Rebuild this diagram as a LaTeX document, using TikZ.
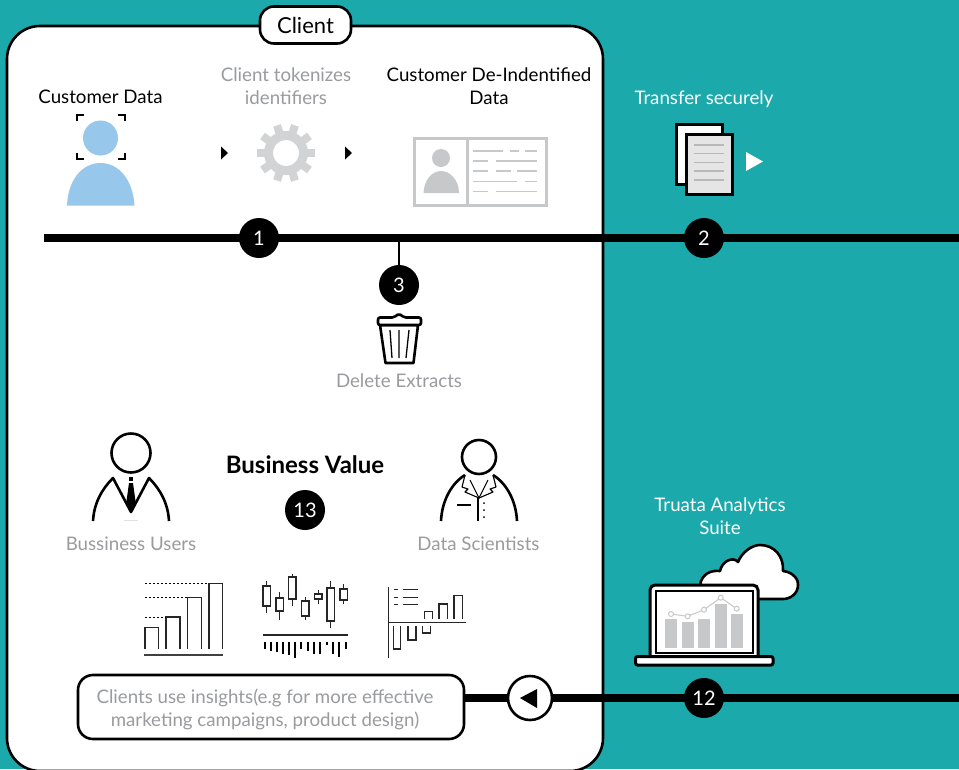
\documentclass[tikz,border=0pt]{standalone}
\usepackage{fontspec}
\setmainfont{Lato}
\definecolor{tealbg}{HTML}{1CA9AC}
\definecolor{soft}{HTML}{999B9E}
\definecolor{icongray}{HTML}{C7C8CA}
\definecolor{geargray}{HTML}{D1D3D4}
\definecolor{skyblue}{HTML}{97C8EC}
\tikzset{
    panel/.style={draw,line width=2.6pt,fill=white},
    label/.style={inner sep=0pt,align=center,font=\fontsize{18.7}{23}\selectfont},
    dark/.style={label,text=black},
    muted/.style={label,text=soft},
    pale/.style={label,text=white},
    badge/.style={circle,fill=black,text=white,minimum size=40pt,inner sep=0pt,font=\fontsize{20}{24}\selectfont},
    trunk/.style={line width=8pt},
    icon/.style={line width=2.6pt,line join=round},
    thinline/.style={line width=1.5pt,draw=black!85},
}
\begin{document}
\begin{tikzpicture}[x=1pt,y=-1pt]
    \useasboundingbox[fill=tealbg] (0,0) rectangle (959,769);
    % client panel
    \draw[panel,rounded corners=33pt] (7,26) rectangle (603,771);
    \node[panel,rounded corners=14pt,minimum width=91pt,minimum height=37pt,inner sep=0pt,font=\fontsize{22}{26}\selectfont] (client) at (305.5,25) {Client};
    % lines across
    \coordinate (extractStart) at (44,238);
    \coordinate (extractEnd) at (959,238);
    \coordinate (deleteTap) at (399,238);
    \coordinate (returnEnd) at (959,698);
    \draw[trunk] (extractStart) -- (extractEnd);
    \node[badge] (stepOne) at (259,238) {1};
    \node[badge] (stepTwo) at (704,238) {2};
    \node[badge] (stepThree) at (399,285) {3};
    \draw[line width=2.6pt] (deleteTap) -- (stepThree);
    % customer data
    \node[dark] (customerData) at (100.5,97) {Customer Data};
    \fill[skyblue] (100.5,138) circle (17.5);
    \fill[skyblue] (67,205.5) .. controls (68,180) and (82,163) .. (100.5,163) .. controls (119,163) and (133,180) .. (134.5,205.5) -- cycle;
    \draw[line width=1.4pt] (77,121) -- (77,115) -- (84,115);
    \draw[line width=1.4pt] (118,115) -- (125,115) -- (125,121);
    \draw[line width=1.4pt] (77,153) -- (77,159) -- (84,159);
    \draw[line width=1.4pt] (118,159) -- (125,159) -- (125,153);
    \fill (221,146.5) -- (228,153) -- (221,159.5) -- cycle;
    \fill (345,146.5) -- (352,153) -- (345,159.5) -- cycle;
    % gear
    \node[muted] (tokenizes) at (286,86) {Client tokenizes\\identifiers};
    \foreach \a in {18,54,...,342} {
        \fill[geargray,rotate around={\a:(286,153)}] (282,134) rectangle (290,124);
    }
    \draw[geargray,line width=9pt] (286,153) circle (17.5);
    % id card
    \node[dark] (deidentified) at (489,86) {Customer De-Indentified\\Data};
    \draw[icongray,line width=3pt] (414,138) rectangle (546.5,205);
    \draw[icongray,line width=3pt] (467,138) -- (467,205);
    \fill[icongray] (441,158) circle (9);
    \fill[icongray] (423.5,193) .. controls (424,180) and (432,171) .. (441,171) .. controls (450,171) and (459,180) .. (459,193) -- cycle;
    \foreach \y/\p/\q in {151/473/503,151/510/519,151/525/537,161/473/488,161/496/537,171/473/488,171/496/511,171/517/537,181.5/473/517,181.5/525/537,191.5/473/488,191.5/496/537} {
        \draw[icongray,line width=1.2pt] (\p,\y) -- (\q,\y);
    }
    % transfer
    \node[pale] (transfer) at (704,99) {Transfer securely};
    \draw[line width=3pt,fill=white] (676,124) rectangle (722,184);
    \draw[line width=3pt,fill=black!10] (686,134.5) rectangle (732,194.5);
    \foreach \y in {145,153.5,162.5,171,180} {
        \draw[black!28,line width=1.2pt] (694,\y) -- (724,\y);
    }
    \fill[white] (746,152) -- (763,161.5) -- (746,171) -- cycle;
    % bin
    \draw[icon] (385.5,363) -- (380,325) -- (418,325) -- (413.5,363) -- cycle;
    \draw[icon,fill=white,rounded corners=2pt] (378,325) -- (378,317.5) -- (394,317.5) -- (399,313.5) -- (404,317.5) -- (421,317.5) -- (421,325) -- cycle;
    \draw[line width=1.3pt] (390,330) -- (392,358) (399,330) -- (399,358) (409,330) -- (406,358);
    \node[muted] (deleteExtracts) at (399,381) {Delete Extracts};
    % business value
    \node[label,font=\fontsize{24}{28}\bfseries\selectfont] (businessValue) at (305,465) {Business Value};
    \node[badge] (stepThirteen) at (305,510) {13};
    % business user
    \draw[icon] (131,453) circle (19.5);
    \draw[icon] (93,521) .. controls (94,503) and (102,489) .. (113,478) -- (131,512) -- (149,478) .. controls (160,489) and (168,503) .. (169,521);
    \fill (128.5,477) rectangle (133,481);
    \fill (129,483) -- (133,483) -- (135.5,501) -- (131,513) -- (126.5,501) -- cycle;
    \draw[black!12,line width=1pt] (124,520.5) -- (138,520.5);
    \node[muted] (bizUsers) at (131,544) {Bussiness Users};
    % data scientist
    \draw[icon] (479,457) circle (17);
    \draw[icon] (441,521) .. controls (442,500) and (452,483) .. (465,475);
    \draw[icon] (517,521) .. controls (516,500) and (506,483) .. (493,475);
    \draw[line width=1.1pt,line join=round] (465,475) -- (462,487) -- (468,489) -- (465,492) -- (479,498) -- (493,492) -- (490,489) -- (496,487) -- (493,475);
    \draw[line width=1.1pt] (470,480) -- (479,498) -- (488,480);
    \draw[line width=1.4pt] (478,498) -- (478,521) (457,505) -- (471,505);
    \fill (484,503) circle (1) (484,510) circle (1) (484,517) circle (1);
    \node[muted] (scientists) at (478.5,544) {Data Scientists};
    % step chart
    \draw[black!75,line width=2pt] (144,654.5) -- (223,654.5);
    \draw[thinline] (145,649) |- (158.5,627.5) -- (158.5,649);
    \draw[thinline] (166,649) |- (180,617) -- (180,649);
    \draw[thinline] (187.5,649) |- (201.5,597.5) -- (201.5,649);
    \draw[thinline] (209,649) |- (222.5,583.5) -- (222.5,649);
    \foreach \y/\q in {583.5/209,597.5/187.5,617/166} {
        \draw[black,line width=.8pt,dash pattern=on 2pt off 2pt] (145,\y) -- (\q,\y);
    }
    % candles
    \foreach \x/\a/\b/\c/\d in {266.7/581/586/606/613,279.7/592/598/611/620,292.3/574/577/599/606,305.3/597/601/616/620,318.3/590/594/599/604,330.7/581/588/621/628,343.7/584/589/600/604} {
        \draw[thinline] (\x,\a) -- (\x,\b) (\x,\c) -- (\x,\d);
        \draw[thinline] (\x-3.8,\b) rectangle (\x+3.8,\c);
    }
    \draw[black!85,line width=1.4pt] (263,635) -- (347.5,635);
    \foreach \x/\d in {265/649,271/651,277/652,283/654,289/655,295/658,301/649,308/651,314/654,320/654,327/645,333/654,339/657,346/649} {
        \draw[black,line width=2.4pt] (\x,642) -- (\x,\d);
    }
    % bars chart
    \draw[thinline] (388.5,587) -- (388.5,658);
    \draw[thinline] (388.5,622.5) -- (465.5,622.5);
    \draw[thinline] (424.5,618.5) |- (432.5,611.5) -- (432.5,618.5);
    \draw[thinline] (439,618.5) |- (447.5,604) -- (447.5,618.5);
    \draw[thinline] (454,618.5) |- (462.5,595.5) -- (462.5,618.5);
    \draw[thinline] (393.5,626) |- (400.5,649) -- (400.5,626);
    \draw[thinline] (408,626) |- (416,640) -- (416,626);
    \draw[thinline] (422.5,626) |- (430.5,633) -- (430.5,626);
    \foreach \y in {589.5,597,604.5} {
        \draw[thinline,line width=1pt] (393.5,\y) -- (398,\y) (403,\y) -- (418,\y);
    }
    % insights box
    \node[panel,rounded corners=15pt,minimum width=386pt,minimum height=64pt,inner sep=0pt] (insights) at (271,707) {};
    \node[muted] (insightsText) at (265,709) {Clients use insights(e.g for more effective\\marketing campaigns, product design)};
    \node[circle,draw,fill=white,line width=2.6pt,minimum size=44pt,inner sep=0pt] (returnArrow) at (530,698) {};
    \draw[trunk] (returnArrow) -- (returnArrow -| insights.east);
    \draw[trunk] (returnArrow) -- (returnEnd);
    \fill (520,698) -- (537,689) -- (537,708) -- cycle;
    \node[badge] (stepTwelve) at (704,698) {12};
    % suite
    \node[pale] (suite) at (720,516) {Truata Analytics\\Suite};
    \draw[icon,fill=white] (700,585) .. controls (702,573) and (712,570) .. (720,571) .. controls (722,561) and (733,556) .. (738,562) .. controls (742,552) and (752,545) .. (760,545) .. controls (774,545) and (784,556) .. (783,571) .. controls (794,572) and (799,581) .. (798,585) .. controls (798,594) and (790,599) .. (783,599) -- (750,599) -- cycle;
    \draw[line width=3pt,fill=white,rounded corners=5pt] (650,657) -- (650,585) -- (758,585) -- (758,657);
    \draw[line width=1.5pt,fill=white] (656,591) rectangle (753,653);
    \draw[line width=3pt,fill=white,rounded corners=2pt] (635.5,656.5) -- (635.5,665) -- (773,665) -- (773,656.5) -- cycle;
    \foreach \p/\q/\y in {665/676.7/619,682/693.7/622,698.3/710/619,715/726.7/604,731/742.7/614} {
        \fill[icongray] (\p,\y) rectangle (\q,647.5);
    }
    \draw[icongray,line width=1pt] (671,614) -- (687.7,616.3) -- (704,609.7) -- (720.7,597.7) -- (736.7,608.7);
    \foreach \x/\y in {671/614,687.7/616.3,704/609.7,720.7/597.7,736.7/608.7} {
        \draw[icongray,line width=1pt,fill=white] (\x,\y) circle (2.5);
    }
\end{tikzpicture}
\end{document}
